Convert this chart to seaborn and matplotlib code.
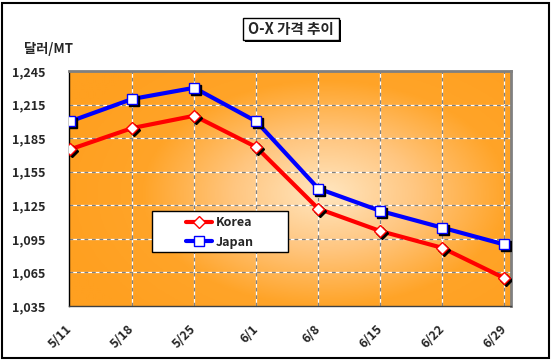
import numpy as np
import pandas as pd
import matplotlib
matplotlib.use("Agg")
import matplotlib.pyplot as plt
import matplotlib.transforms as mtransforms
from matplotlib.colors import LinearSegmentedColormap
from matplotlib.lines import Line2D
from matplotlib.patches import Rectangle
import seaborn as sns

dates = ["5/11", "5/18", "5/25", "6/1", "6/8", "6/15", "6/22", "6/29"]
korea = [1175, 1194, 1205, 1177, 1122, 1102, 1087, 1060]
japan = [1200, 1220, 1230, 1200, 1140, 1120, 1105, 1090]
yticks = [1035, 1065, 1095, 1125, 1155, 1185, 1215, 1245]
title = "O-X 가격 추이"
unit = "달러/MT"

sns.set_style("white")
plt.rcParams['font.family'] = ['Noto Sans CJK KR', 'DejaVu Sans']

df = pd.DataFrame({"date": dates * 2,
                   "pos": list(range(len(dates))) * 2,
                   "price": korea + japan,
                   "country": ["Korea"] * len(dates) + ["Japan"] * len(dates)})

W, H = 553, 362
fig = plt.figure(figsize=(W / 100, H / 100), dpi=100)
fig.patch.set_facecolor("white")
ax = fig.add_axes([69/W, 1-306/H, (511-69)/W, (306-71)/H])


def fig_rect(x0, y0, x1, y1, **kw):
    return Rectangle((x0 / W, 1 - y1 / H), (x1 - x0) / W, (y1 - y0) / H,
                     transform=fig.transFigure, **kw)


# gradient background
nx, ny = 300, 200
gx = np.linspace(0, 1, nx)
gy = np.linspace(0, 1, ny)
X, Y = np.meshgrid(gx, gy)
R = np.sqrt(((X - 0.58) / 0.62) ** 2 + ((Y - 0.48) / 0.72) ** 2)
R = np.clip(R, 0, 1)
cmap = LinearSegmentedColormap.from_list("og", ["#FFE6C0", "#FFC680", "#FFA428", "#FFA020"])
ax.imshow(R, extent=[0, 1, 0, 1], transform=ax.transAxes, cmap=cmap, vmin=0, vmax=1,
          aspect="auto", zorder=0, origin="lower", interpolation="bilinear")

ax.set_xlim(-0.02, 7.11)
ax.set_ylim(1035, 1245)

# grid
for yv in yticks[1:-1]:
    ax.axhline(yv, color="white", lw=0.9, zorder=1)
    ax.axhline(yv, color="#808080", lw=0.9, dashes=(3, 3), zorder=1.1)
for xv in range(1, len(dates)):
    ax.axvline(xv, color="white", lw=0.9, zorder=1)
    ax.axvline(xv, color="#808080", lw=0.9, dashes=(3, 3), zorder=1.1)

palette = {"Korea": "#FF0000", "Japan": "#0000FF"}
sns.lineplot(data=df, x="pos", y="price", hue="country", palette=palette,
             lw=3, ax=ax, legend=False, zorder=3, sort=False)

shadow = mtransforms.offset_copy(ax.transData, fig=fig, x=2, y=-2, units="dots")
mk = {"Korea": ("D", 6.5), "Japan": ("s", 7.5)}
for c in ["Korea", "Japan"]:
    sub = df[df.country == c]
    m, s = mk[c]
    ax.plot(sub.pos, sub.price, ls="none", marker=m, ms=s, mfc="black", mec="black",
            transform=shadow, zorder=4)
    ax.plot(sub.pos, sub.price, ls="none", marker=m, ms=s, mfc="white", mec=palette[c],
            mew=1.0, zorder=5)

ax.set_yticks(yticks)
ax.set_yticklabels([f"{v:,}" for v in yticks], fontsize=9, fontweight="bold")
ax.set_xticks(range(len(dates)))
ax.set_xticklabels(dates, rotation=45, fontsize=9, fontweight="bold",
                   ha="right", va="center", rotation_mode="anchor")
ax.tick_params(axis="y", length=0, pad=17)
ax.tick_params(axis="x", length=0, pad=15)
ax.set_xlabel("")
ax.set_ylabel("")

for sp in ["top", "right"]:
    ax.spines[sp].set_color("#808080")
    ax.spines[sp].set_linewidth(2)
ax.spines["left"].set_color("black")
ax.spines["bottom"].set_color("#404040")
ax.spines["left"].set_linewidth(1)
ax.spines["bottom"].set_linewidth(1)

# legend: box drawn manually, entries via legend
ax.add_patch(Rectangle(((152-69)/442, (306-252)/235), (288-152)/442, (252-211)/235,
                       transform=ax.transAxes, fc="white", ec="black", lw=1, zorder=9))
handles = [Line2D([0], [0], color="#FF0000", lw=3, marker="D", ms=6, mfc="white", mec="#FF0000"),
           Line2D([0], [0], color="#0000FF", lw=3, marker="s", ms=7, mfc="white", mec="#0000FF")]
leg = ax.legend(handles, ["Korea", "Japan"], loc="center left",
                bbox_to_anchor=((186-69)/442, (306-232.5)/235), frameon=False,
                prop={"weight": "bold", "size": 9},
                handlelength=2.1, borderpad=0, labelspacing=0.5, handletextpad=0.3,
                borderaxespad=0)
leg.set_zorder(10)

# title box with shadow
fig.patches.append(fig_rect(245, 20, 341, 42, fc="black", ec="none", zorder=1))
fig.patches.append(fig_rect(243, 18, 339, 40, fc="white", ec="black", lw=1, zorder=2))
fig.text(291/W, 1-29/H, title, ha="center", va="center", fontsize=10.5, fontweight="bold",
         zorder=3)
fig.text(24/W, 1-48.5/H, unit, ha="left", va="center", fontsize=9.5, fontweight="bold")

# outer frame
fig.patches.append(Rectangle((2/W, 4/H), 547/W, 355/H, transform=fig.transFigure,
                             fill=False, ec="black", lw=1.5))

fig.savefig("out.png", dpi=100)
